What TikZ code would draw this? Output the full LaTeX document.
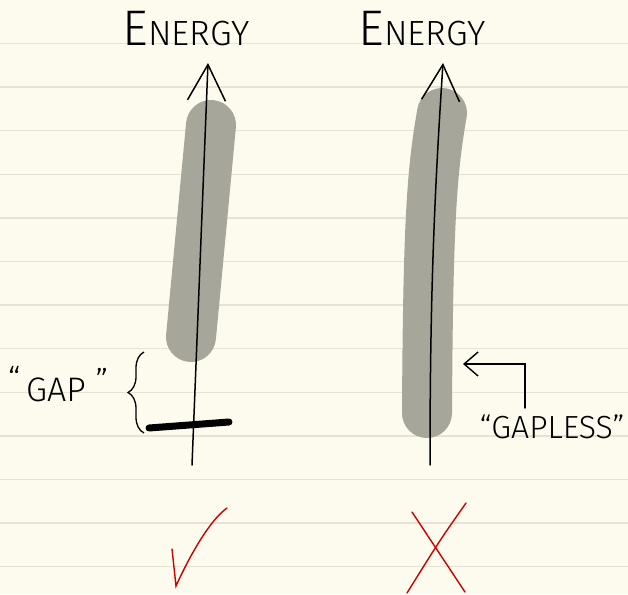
\documentclass[tikz,border=0pt]{standalone}
\usepackage{fontspec}
\setmainfont{Fira Sans Light}
\usepackage{tikz}
\usetikzlibrary{arrows.meta, decorations.pathreplacing, positioning}

\definecolor{paper}{HTML}{FDFBEE}
\definecolor{ruleline}{HTML}{E6E3D5}
\definecolor{bandgray}{HTML}{A6A69A}
\definecolor{markred}{HTML}{CC0000}

\newcommand{\energyword}{{\fontsize{50}{50}\selectfont E}{\fontsize{35}{35}\selectfont NERGY}}

\begin{document}
\begin{tikzpicture}[x=1pt, y=-1pt,
    axis/.style={line width=1.5pt, line cap=round,
      -{Straight Barb[length=36pt, width=38pt, line width=1.5pt]}},
    band/.style={bandgray, line width=50pt, line cap=round},
    verdict/.style={markred, line width=1.4pt, line cap=round},
    hand/.style={inner sep=0pt, font=\fontsize{34}{34}\selectfont}]

    % paper
    \fill[paper] (0,0) rectangle (628,594);
    \useasboundingbox (0,0) rectangle (628,594);
    \foreach \i in {0,...,12}
        \draw[ruleline, line width=1.3pt] (0,43.5+43.6*\i) -- (628,43.5+43.6*\i);

    % gapped spectrum
    \coordinate (lbase) at (192,465);
    \coordinate (ltip) at (208,63);
    \coordinate (lbandtop) at (211,125);
    \coordinate (lbandbot) at (191,337);
    \coordinate (groundL) at (149,428);
    \coordinate (groundR) at (229,422);
    \draw[band] (lbandtop) -- (lbandbot);
    \draw[axis] (lbase) -- (ltip);
    \draw[line width=7pt, line cap=round] (groundL) -- (groundR);
    \draw[line width=1.3pt, decorate, decoration={brace, amplitude=16pt}]
        (144,433) -- (144,352);
    \node[hand] (gap) at (58,384)
        {\raisebox{10pt}{``}\,GAP\hspace{10pt}\raisebox{8pt}{''}};
    \node[inner sep=0pt] (energyL) at (186,29) {\energyword};

    % gapless spectrum
    \coordinate (rbase) at (430,465);
    \coordinate (rtip) at (443,63);
    \coordinate (rbandtop) at (442,113);
    \coordinate (rbandbot) at (427,413);
    \draw[band] (rbandtop) .. controls (432,170) and (428,220) .. (rbandbot);
    \draw[axis] (rbase) .. controls (430,300) and (434,200) .. (rtip);
    \node[inner sep=0pt] (energyR) at (422,29) {\energyword};
    \node[hand, font=\fontsize{32}{32}\selectfont] (gapless) at (552,427) {``GAPLESS''};
    \coordinate (pointer) at (525,408);
    \coordinate (pointtip) at (463,364);
    \draw[line width=1.4pt, line cap=round,
        -{Straight Barb[length=14pt, width=24pt, line width=1.4pt]}]
        (pointer) |- (pointtip);

    % verdicts
    \coordinate (tickA) at (172,549);
    \coordinate (tickB) at (176,586);
    \coordinate (tickC) at (227,508);
    \draw[verdict] (tickA) -- (tickB) .. controls (190,555) and (210,520) .. (tickC);
    \coordinate (crossA) at (412,512);
    \coordinate (crossB) at (465,592);
    \coordinate (crossC) at (466,503);
    \coordinate (crossD) at (407,593);
    \draw[verdict] (crossA) -- (crossB);
    \draw[verdict] (crossC) .. controls (440,540) .. (crossD);
\end{tikzpicture}
\end{document}
